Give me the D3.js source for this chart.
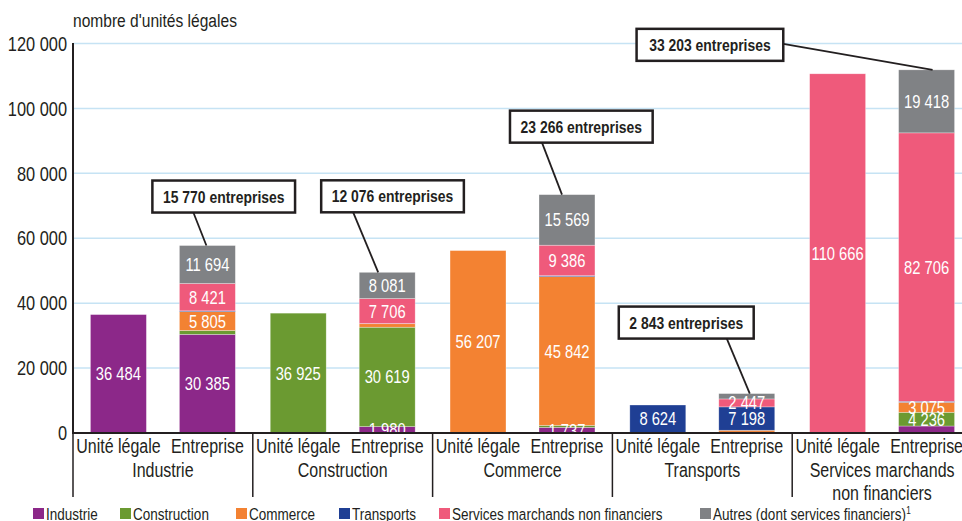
<!DOCTYPE html>
<html>
<head>
<meta charset="utf-8">
<script src="https://cdn.jsdelivr.net/npm/d3@7"></script>
<style>
  body { margin: 0; background: #fff; }
  svg { display: block; font-family: "Liberation Sans", Arial, sans-serif; }
</style>
</head>
<body>
<div id="chart"></div>
<script>
// Données (nombre d'unités légales)
const groups = ["Industrie", "Construction", "Commerce", "Transports", "Services marchands non financiers"];
const groupLines = [["Industrie"], ["Construction"], ["Commerce"], ["Transports"], ["Services marchands", "non financiers"]];
const barTypes = ["Unité légale", "Entreprise"];
const sectors = ["Industrie", "Construction", "Commerce", "Transports", "Services marchands non financiers", "Autres (dont services financiers)"];

const uniteLegale = [36484, 36925, 56207, 8624, 110666];

// composition des entreprises (par secteur des unités légales)
const entIndustrie    = [30385, 1980, 1737, 150, 2150];
const entConstruction = [1200, 30619, 600, 100, 4236];
const entCommerce     = [5805, 1060, 45842, 600, 3075];
const entTransports   = [250, 60, 300, 7198, 300];
const entServices     = [8421, 7706, 9386, 2447, 82706];
const entAutres       = [11694, 8081, 15569, 1650, 19418];

const nbEntreprises = ["15 770", "12 076", "23 266", "2 843", "33 203"];
const yTicks = [0, 20000, 40000, 60000, 80000, 100000, 120000];

const colors = ["#8c2889", "#6b9a31", "#f38232", "#1f3f94", "#ef5a7b", "#808285"];

const W = 962, H = 521;
const SX = 0.82; // police condensée
const fr = d3.formatLocale({ decimal: ",", thousands: " ", grouping: [3], currency: ["", " €"] });
const fmt = fr.format(",d");

// texte condensé : on place par transform
function place(sel, x, y) {
  return sel.attr("transform", `translate(${x},${y}) scale(${SX},1)`);
}

const svg = d3.select("#chart").append("svg").attr("width", W).attr("height", H);

const x0 = d3.scaleBand().domain(groups).range([73, 972]);
const x1 = d3.scaleBand().domain(barTypes).range([0, x0.bandwidth()]).paddingInner(0.371).paddingOuter(0.196);
const y = d3.scaleLinear().domain([0, 120000]).range([433, 43.5]);
const color = d3.scaleOrdinal().domain(sectors).range(colors);

// table pour la pile
const entSeries = [entIndustrie, entConstruction, entCommerce, entTransports, entServices, entAutres];
const rows = groups.map((g, i) => {
  const r = { group: g, idx: i };
  sectors.forEach((s, k) => r[s] = entSeries[k][i]);
  return r;
});
const stacked = d3.stack().keys(sectors)(rows);

// grille
svg.append("g").selectAll("line")
  .data(yTicks.filter(d => d > 0))
  .enter().append("line")
  .attr("x1", 73).attr("x2", W)
  .attr("y1", d => y(d)).attr("y2", d => y(d))
  .attr("stroke", "#c6e3f4").attr("stroke-width", 1.5);

// graduations
svg.append("g").selectAll("text")
  .data(yTicks)
  .enter().append("text")
  .each(function(d){ place(d3.select(this), 67, y(d)); })
  .attr("dy", "0.36em")
  .attr("text-anchor", "end")
  .style("font-size", "20px").style("fill", "#231f20")
  .text(d => fmt(d));

place(svg.append("text"), 73, 27)
  .style("font-size", "19px").style("fill", "#231f20")
  .text("nombre d'unités légales");

// barres unité légale
svg.append("g").selectAll("rect")
  .data(groups)
  .enter().append("rect")
  .attr("x", d => x0(d) + x1("Unité légale"))
  .attr("width", x1.bandwidth())
  .attr("y", (d, i) => y(uniteLegale[i]))
  .attr("height", (d, i) => y(0) - y(uniteLegale[i]))
  .attr("fill", (d, i) => colors[i])
  .attr("stroke", "#fff").attr("stroke-opacity", 0.5).attr("stroke-width", 0.6);

// barres entreprise empilées
svg.append("g").selectAll("g")
  .data(stacked)
  .enter().append("g")
  .attr("fill", d => color(d.key))
  .selectAll("rect")
  .data(d => d)
  .enter().append("rect")
  .attr("x", d => x0(d.data.group) + x1("Entreprise"))
  .attr("width", x1.bandwidth())
  .attr("y", d => y(d[1]))
  .attr("height", d => y(d[0]) - y(d[1]))
  .attr("stroke", "#fff").attr("stroke-opacity", 0.5).attr("stroke-width", 0.6);

// étiquettes de valeurs
svg.append("clipPath").attr("id", "clipPlot")
  .append("rect").attr("x", 0).attr("y", 0).attr("width", W).attr("height", 433);
const lbl = svg.append("g").attr("clip-path", "url(#clipPlot)")
  .style("font-size", "18px").style("fill", "#fff").attr("text-anchor", "middle");

groups.forEach((g, i) => {
  place(lbl.append("text"), x0(g) + x1("Unité légale") + x1.bandwidth() / 2, y(uniteLegale[i] / 2))
    .attr("dy", "0.36em")
    .text(fmt(uniteLegale[i]));
});

const minLabel = 1700;
const noLabel = ["Industrie|Services marchands non financiers"];
stacked.forEach(s => s.forEach(d => {
  const v = d[1] - d[0];
  if (v < minLabel || noLabel.includes(s.key + "|" + d.data.group)) return;
  place(lbl.append("text"), x0(d.data.group) + x1("Entreprise") + x1.bandwidth() / 2, y((d[0] + d[1]) / 2))
    .attr("dy", "0.36em")
    .text(fmt(v));
}));

// axes
svg.append("line").attr("x1", 73).attr("x2", 73).attr("y1", 43).attr("y2", 433)
  .attr("stroke", "#231f20").attr("stroke-width", 2);
svg.append("line").attr("x1", 72).attr("x2", W).attr("y1", 433).attr("y2", 433)
  .attr("stroke", "#231f20").attr("stroke-width", 2);

svg.append("g").selectAll("line")
  .data(groups)
  .enter().append("line")
  .attr("x1", d => x0(d)).attr("x2", d => x0(d))
  .attr("y1", 433).attr("y2", 497)
  .attr("stroke", "#231f20").attr("stroke-width", 1.5);

const cat = svg.append("g").style("font-size", "19.5px").style("fill", "#231f20").attr("text-anchor", "middle");
groups.forEach((g, i) => {
  barTypes.forEach(b => {
    place(cat.append("text"), x0(g) + x1(b) + x1.bandwidth() / 2, 453).text(b);
  });
  groupLines[i].forEach((t, j) => {
    place(cat.append("text"), x0(g) + x0.bandwidth() / 2, 477 + j * 23).text(t);
  });
});

// annotations (position de la boîte relative au sommet de la barre entreprise)
const annotLayout = [
  { bx: -55, by: -65, sx: -14, ex: -1, side: false },
  { bx: -66, by: -92, sx: -34, ex: -9, side: false },
  { bx: -57, by: -84, sx: -25, ex: -5, side: false },
  { bx: -128, by: -87, sx: -20, ex: 3, side: false },
  { bx: -290, by: -41, sx: 0, ex: 6, side: true }
];
const ann = svg.append("g");
rows.forEach((r, i) => {
  const total = d3.sum(sectors, s => r[s]);
  const cx = x0(r.group) + x1("Entreprise") + x1.bandwidth() / 2;
  const ty = y(total);
  const L = annotLayout[i];
  const t = ann.append("text")
    .style("font-size", "17px").style("font-weight", "bold").style("fill", "#231f20")
    .attr("text-anchor", "middle")
    .text(nbEntreprises[i] + " entreprises");
  const tw = t.node().getComputedTextLength() * SX;
  const bw = tw + (i === 4 ? 25 : 21), bh = 32;
  const bx = cx + L.bx, by = ty + L.by;
  place(t, bx + bw / 2, by + bh / 2).attr("dy", "0.36em");
  ann.insert("rect", "text")
    .attr("x", bx).attr("y", by).attr("width", bw).attr("height", bh)
    .attr("fill", "#fff").attr("stroke", "#231f20").attr("stroke-width", 2.5);
  const sx = L.side ? bx + bw : cx + L.sx;
  const sy = L.side ? by + 15 : by + bh;
  ann.append("line")
    .attr("x1", sx).attr("y1", sy).attr("x2", cx + L.ex).attr("y2", ty)
    .attr("stroke", "#231f20").attr("stroke-width", 1.8);
});

// légende
const legendX = [33, 120, 236, 339, 439, 700];
const leg = svg.append("g").style("font-size", "16.5px").style("fill", "#231f20");
sectors.forEach((s, i) => {
  leg.append("rect").attr("x", legendX[i]).attr("y", 508).attr("width", 11).attr("height", 11)
    .attr("fill", colors[i]);
  const t = place(leg.append("text"), legendX[i] + 13, 519.5).text(s);
  if (i === 5) t.append("tspan").attr("dy", -6).style("font-size", "10px").text("1");
});
</script>
</body>
</html>
